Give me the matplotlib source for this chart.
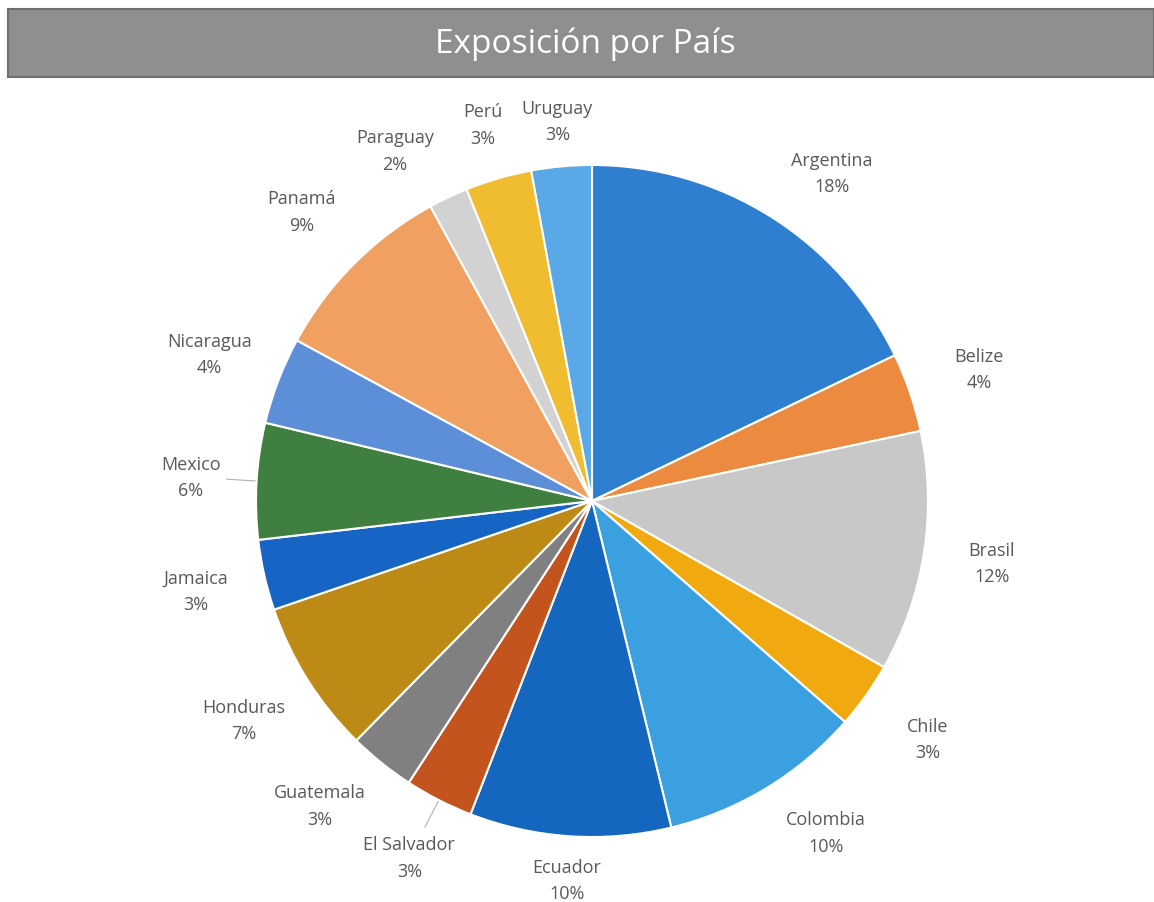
import numpy as np
import matplotlib
matplotlib.use("Agg")
import matplotlib.pyplot as plt
from matplotlib.patches import Rectangle

# Exposure share per country (%), clockwise from 12 o'clock
countries = ["Argentina", "Belize", "Brasil", "Chile", "Colombia", "Ecuador",
             "El Salvador", "Guatemala", "Honduras", "Jamaica", "Mexico",
             "Nicaragua", "Panamá", "Paraguay", "Perú", "Uruguay"]
shares = [17.9, 3.8, 11.6, 3.2, 9.8, 9.7, 3.3, 3.2, 7.4, 3.4, 5.6,
          4.2, 9.1, 1.9, 3.2, 2.9]
colors = ["#2f7fd0", "#ec8a3f", "#c8c8c8", "#f0aa10", "#3aa0e0", "#1466be",
          "#c4541e", "#808080", "#be8a16", "#1664c4", "#3f8040",
          "#5d8ed8", "#f0a060", "#d2d2d2", "#f0bc30", "#5aa8e6"]
leader = ["El Salvador", "Mexico"]
# small angular nudges (deg, counter-clockwise) like Excel's label placement
nudge = {"Argentina": -4, "Colombia": 4, "Guatemala": -3, "Paraguay": 4}

W, H = 1154, 903
cx, cy, R = 592, 502, 336  # pie centre and radius in pixels (from top-left)

fig = plt.figure(figsize=(W / 100, H / 100), dpi=100)
fig.patch.set_facecolor("white")

# title bar
fig.patches.append(Rectangle((8 / W, 1 - 78 / H), 1 - 8 / W, 68 / H,
                             transform=fig.transFigure, facecolor="#8f8f8f",
                             edgecolor="#6e6e6e", linewidth=1.5))
fig.text(585 / W, 1 - 44 / H, "Exposición por País", color="white",
         fontsize=24, family="Open Sans", ha="center", va="center")

ax = fig.add_axes([0, 0, 1, 1])
wedges, _ = ax.pie(shares, colors=colors, startangle=90, counterclock=False,
                   wedgeprops=dict(edgecolor="white", linewidth=1.5))
ax.set_aspect("auto")
ax.set_xlim(-cx / R, (W - cx) / R)
ax.set_ylim(-(H - cy) / R, cy / R)
ax.axis("off")

for w, name, val in zip(wedges, countries, shares):
    mid = np.radians((w.theta1 + w.theta2) / 2)
    x, y = np.cos(mid), np.sin(mid)
    if name in leader:
        ax.plot([1.005 * x, 1.09 * x], [1.005 * y, 1.09 * y],
                color="#b0b0b0", linewidth=0.8)
    ang = mid + np.radians(nudge.get(name, 0))
    lx, ly = np.cos(ang), np.sin(ang)
    d = 1.12 + 0.07 * abs(lx) + 0.1 * abs(lx * ly)
    ax.text(d * lx, d * ly, f"{name}\n{round(val):d}%", ha="center",
            va="center", fontsize=13, color="#595959", family="Open Sans",
            linespacing=1.6)

fig.savefig("out.png", dpi=100)
